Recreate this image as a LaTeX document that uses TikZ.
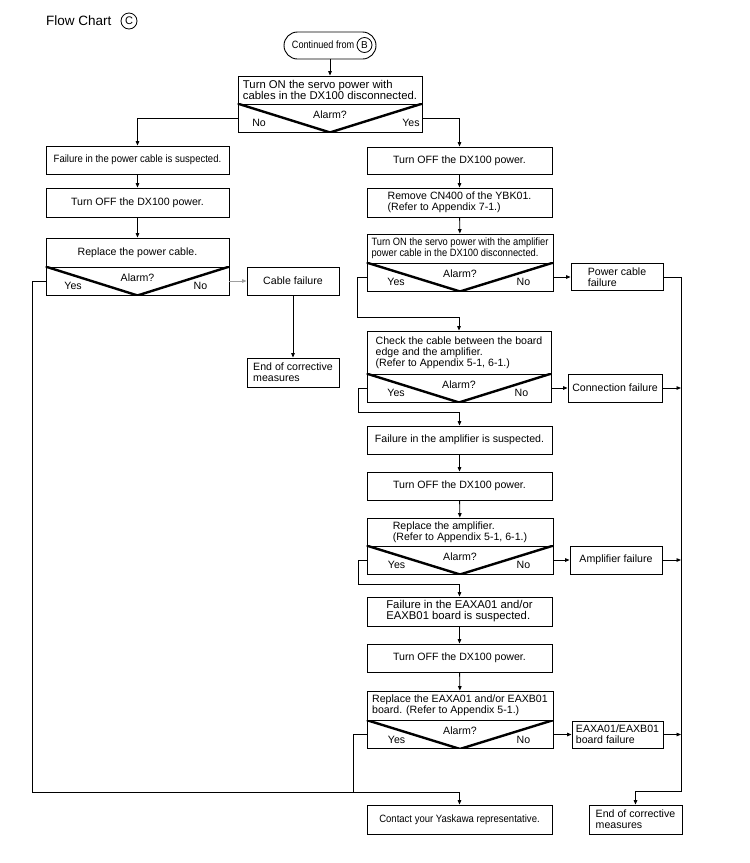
\documentclass[tikz,border=0pt]{standalone}
\usepackage{fontspec}
\setmainfont{Liberation Sans}
\newfontfamily\cnA[FakeStretch=0.86]{Liberation Sans}
\newfontfamily\cnB[FakeStretch=0.88]{Liberation Sans}
\newfontfamily\cnC[FakeStretch=0.9]{Liberation Sans}
\usetikzlibrary{arrows.meta,calc}
\newcommand{\fsz}[1]{\fontsize{#1}{11}\selectfont}
\tikzset{
  line/.style={line width=0.9pt, draw=black},
  arr/.style={line, -{Triangle[length=4.5pt,width=3.6pt]}},
  box/.style={draw, line width=0.9pt, inner sep=0pt, font=\fsz{10.6}},
  dec/.style={draw, line width=0.9pt, inner sep=0pt, minimum height=28pt},
  vee/.style={line width=2.4pt, line cap=butt},
  lbl/.style={inner sep=0pt, font=\fsz{10.6}},
}
\newcommand{\alarmdec}[8]{%
  \node[dec, minimum width=#4pt] (#1) at (#2,#3) {};
  \begin{scope}
    \clip (#1.north west) rectangle (#1.south east);
    \draw[vee] (#1.north west) -- (#1.south) -- (#1.north east);
  \end{scope}
  \node[lbl] (#1q) at ($(#1.north)+(0,11)$) {Alarm?};
  \node[lbl] (#1l) at ($(#1.north west)+(#6,19.5)$) {#5};
  \node[lbl] (#1r) at ($(#1.north east)+(-#8,19.5)$) {#7};
}
\begin{document}
\begin{tikzpicture}[x=1pt,y=-1pt]
\fill[white] (0,0) rectangle (750,863);
\useasboundingbox (0,0) rectangle (750,863);

% title
\node[anchor=west, inner sep=0pt, font=\fsz{13.5}] (title) at (46,21) {Flow Chart};
\node[circle, draw, line width=0.8pt, minimum size=16pt, inner sep=0pt, font=\fsz{11}] (titleC) at (129,21) {C};

% start
\node[draw, line width=0.9pt, rounded corners=13.5pt, minimum width=92pt, minimum height=27pt] (start) at (330,45.5) {};
\node[anchor=east, inner sep=0pt, font=\cnA\fsz{10.6}] (startt) at (354.5,45) {Continued from};
\node[circle, draw, line width=0.8pt, minimum size=15pt, inner sep=0pt, font=\fsz{10}] (startB) at (364.5,45) {B};

% top decision
\node[box, minimum width=184pt, minimum height=28pt, align=left, font=\fsz{11.3}] (topt) at (330,90) {Turn ON the servo power with\\cables in the DX100 disconnected.};
\alarmdec{topd}{330}{118}{184}{No}{21.5}{Yes}{11.5}

% left column
\node[box, minimum width=183pt, minimum height=28pt, font=\cnC\fsz{10.6}] (L1) at (137.5,160) {Failure in the power cable is suspected.};
\node[box, minimum width=183pt, minimum height=29pt] (L2) at (137.5,202.5) {Turn OFF the DX100 power.};
\node[box, minimum width=183pt, minimum height=29pt] (L3t) at (137.5,252.5) {Replace the power cable.};
\alarmdec{L3d}{137.5}{281}{183}{Yes}{27.5}{No}{29}
\node[box, minimum width=92pt, minimum height=28pt] (CF) at (293,281) {Cable failure};
\node[box, minimum width=92pt, minimum height=29pt, align=left] (E1) at (293,372.5) {End of corrective\\measures};

% right column
\node[box, minimum width=185pt, minimum height=27pt] (R1) at (459.5,160.5) {Turn OFF the DX100 power.};
\node[box, minimum width=185pt, minimum height=29pt, align=left] (R2) at (459.5,202.5) {Remove CN400 of the YBK01.\\(Refer to Appendix 7-1.)};
\node[box, minimum width=186pt, minimum height=29pt, align=left, font=\cnB\fsz{10.6}] (R3t) at (460,248.5) {Turn ON the servo power with the amplifier\\power cable in the DX100 disconnected.};
\alarmdec{R3d}{460}{277}{186}{Yes}{29.5}{No}{30}
\node[box, minimum width=92pt, minimum height=27pt, align=left] (PCF) at (617,277) {Power cable\\failure};

\node[box, minimum width=184pt, minimum height=43pt, align=left] (R4t) at (459,352.5) {Check the cable between the board\\edge and the amplifier.\\(Refer to Appendix 5-1, 6-1.)};
\alarmdec{R4d}{459}{388}{184}{Yes}{29.5}{No}{30}
\node[box, minimum width=94pt, minimum height=28pt] (ConnF) at (615,388) {Connection failure};

\node[box, minimum width=185pt, minimum height=28pt] (R5) at (459.5,440) {Failure in the amplifier is suspected.};
\node[box, minimum width=185pt, minimum height=28pt] (R6) at (459.5,486) {Turn OFF the DX100 power.};
\node[box, minimum width=186pt, minimum height=28pt, align=left] (R7t) at (460,532) {Replace the amplifier.\\(Refer to Appendix 5-1, 6-1.)};
\alarmdec{R7d}{460}{560}{186}{Yes}{30}{No}{30}
\node[box, minimum width=92pt, minimum height=28pt] (AmpF) at (616,560) {Amplifier failure};

\node[box, minimum width=185pt, minimum height=29pt, align=left, font=\fsz{11.3}] (R8) at (459.5,611.5) {Failure in the EAXA01 and/or\\EAXB01 board is suspected.};
\node[box, minimum width=185pt, minimum height=28pt] (R9) at (459.5,658) {Turn OFF the DX100 power.};
\node[box, minimum width=186pt, minimum height=29pt, align=left] (R10t) at (460,705.5) {Replace the EAXA01 and/or EAXB01\\board. (Refer to Appendix 5-1.)};
\alarmdec{R10d}{460}{734.5}{186}{Yes}{30}{No}{30}
\node[box, minimum width=91pt, minimum height=27pt, align=left] (EBF) at (617.5,734.5) {EAXA01/EAXB01\\board failure};

% bottom
\node[box, minimum width=185pt, minimum height=29pt, font=\cnC\fsz{10.6}] (contact) at (459.5,819.5) {Contact your Yaskawa representative.};
\node[box, minimum width=93pt, minimum height=29pt, align=left] (E2) at (635.5,819.5) {End of corrective\\measures};

% junction coordinates
\coordinate (jL) at (32,792);
\coordinate (jR) at (353,792);
\coordinate (rv) at (681,791);
\coordinate (k1) at (357,317);
\coordinate (k2) at (358,412);
\coordinate (k3) at (358,584);

% connectors
\draw[arr] (start) -- (topt);
\draw[arr] (topd.west) -| (L1.north);
\draw[arr] (topd.east) -| (R1.north);
\draw[arr] (L1) -- (L2);
\draw[arr] (L2) -- (L3t);
\draw[arr, draw=gray!75, fill=gray!75] (L3d.east) -- (CF.west);
\draw[arr] (CF) -- (E1);
\draw[arr] (L3d.west) -| (jL) -| (contact.north);

\draw[arr] (R1) -- (R2);
\draw[arr] (R2) -- (R3t);
\draw[arr] (R3d.east) -- (PCF.west);
\draw[arr] (R3d.west) -| (k1) -| (R4t.north);
\draw[arr] (PCF.east) -| (rv) -| (E2.north);

\draw[arr] (R4d.east) -- (ConnF.west);
\draw[arr] (ConnF.east) -- (ConnF.east -| rv);
\draw[arr] (R4d.west) -| (k2) -| (R5.north);

\draw[arr] (R5) -- (R6);
\draw[arr] (R6) -- (R7t);
\draw[arr] (R7d.east) -- (AmpF.west);
\draw[arr] (AmpF.east) -- (AmpF.east -| rv);
\draw[arr] (R7d.west) -| (k3) -| (R8.north);

\draw[arr] (R8) -- (R9);
\draw[arr] (R9) -- (R10t);
\draw[arr] (R10d.east) -- (EBF.west);
\draw[arr] (EBF.east) -- (EBF.east -| rv);
\draw[line] (R10d.west) -| (jR);
\end{tikzpicture}
\end{document}
